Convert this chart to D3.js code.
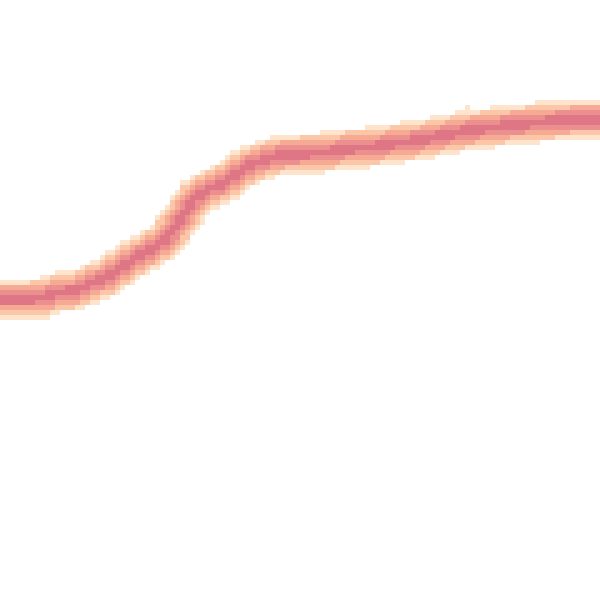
<!DOCTYPE html>
<html><head><meta charset="utf-8">
<script src="https://cdn.jsdelivr.net/npm/d3@7"></script>
<style>html,body{margin:0;padding:0;background:#fff}svg{display:block}</style>
</head><body>
<svg id="chart" width="600" height="600"></svg>
<script>
// Time index of each sample of the central trend
const times = [0,1,2,3,4,5,6,7,8,9,10,11,12,13,14,15,16,17,18,19,20,21,22,23,24,25,26,27,28,29,30,31,32,33,34,35,36,37,38,39,40];
// Central value of the dense band at each time
const values = [301,301,301,303,308,309,316,322,332,342,350,360,380,402,411,418,429,437,442,446,446,447,448,451,452,453,456,458,460,463,466,469,471,473,475,476,478,479,480,480,481];
// Isolated sparse observations outside the band [time, value]
const strayTimes = [31.1, 37.3, 19.3, 4.8, 3.0];
const strayValues = [492, 495, 462, 322, 285];
// Density levels (distance from trend, px) and their colours
const levelLimits = [4, 8.5, 12.5, 16.5, 20];
const levelColors = ["#df7686", "#ec8f8f", "#f6a993", "#fcc6a9", "#fee3cd"];

const W = 600, H = 600, cell = 5;
const x = d3.scaleLinear().domain([0, 40]).range([0, W]);
const y = d3.scaleLinear().domain([0, 600]).range([H, 0]);
const color = d3.scaleThreshold().domain(levelLimits).range(levelColors.concat([null]));

const pts = times.map((t, i) => [x(t), y(values[i])]);
function segDist(px, py, a, b) {
  const dx = b[0]-a[0], dy = b[1]-a[1];
  let u = ((px-a[0])*dx + (py-a[1])*dy) / (dx*dx + dy*dy);
  u = Math.max(0, Math.min(1, u));
  const qx = a[0]+u*dx - px, qy = a[1]+u*dy - py;
  return Math.sqrt(qx*qx + qy*qy);
}
const cols = W / cell, rows = H / cell;
const cells = [];
const strayKeys = new Set(strayTimes.map((t, i) =>
  Math.floor(x(t)/cell) + "," + Math.floor(y(strayValues[i])/cell)));
for (let c = 0; c < cols; c++) {
  for (let r = 0; r < rows; r++) {
    const cx = c*cell + cell/2, cy = r*cell + cell/2;
    let d = Infinity;
    for (let k = 0; k < pts.length-1; k++) d = Math.min(d, segDist(cx, cy, pts[k], pts[k+1]));
    let col = color(d);
    if (!col && strayKeys.has(c + "," + r)) col = levelColors[levelColors.length-1];
    if (col) cells.push({c, r, col});
  }
}
d3.select("#chart").append("g")
  .selectAll("rect").data(cells).join("rect")
  .attr("x", d => d.c*cell).attr("y", d => d.r*cell)
  .attr("width", cell).attr("height", cell)
  .attr("fill", d => d.col);
</script>
</body></html>
